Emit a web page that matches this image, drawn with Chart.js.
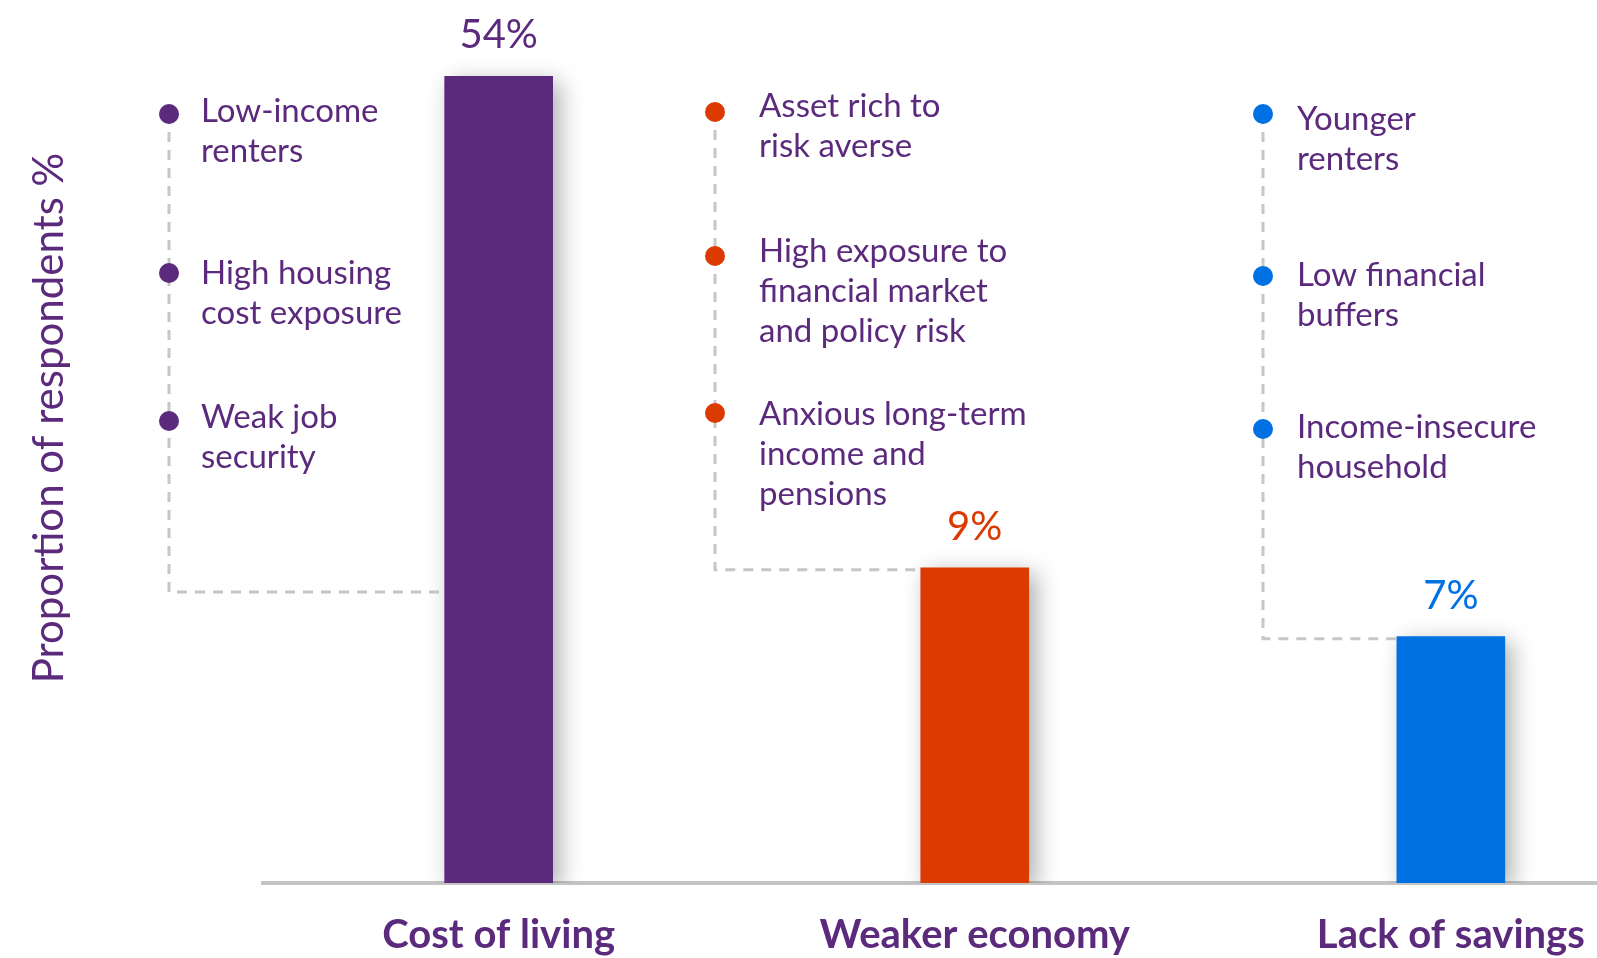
<!DOCTYPE html>
<html>
<head>
<meta charset="utf-8">
<script src="https://cdn.jsdelivr.net/npm/chart.js@4.4.1/dist/chart.umd.min.js"></script>
<style>
  html, body { margin: 0; padding: 0; background: #fff; }
  #wrap { width: 1597px; height: 958px; }
</style>
</head>
<body>
<div id="wrap"><canvas id="chart" width="1597" height="958"></canvas></div>
<script>
const categories = ['Cost of living', 'Weaker economy', 'Lack of savings'];
const shares = [54, 9, 7];
const barColors = ['#5b2a7c', '#db3a00', '#0071e3'];
const yTitle = 'Proportion of respondents %';

// bullet notes beside each bar
const notesCost = [['Low-income', 'renters'], ['High housing', 'cost exposure'], ['Weak job', 'security']];
const notesEconomy = [['Asset rich to', 'risk averse'], ['High exposure to', 'financial market', 'and policy risk'], ['Anxious long-term', 'income and', 'pensions']];
const notesSavings = [['Younger', 'renters'], ['Low financial', 'buffers'], ['Income-insecure', 'household']];
const notes = [notesCost, notesEconomy, notesSavings];

const textColor = '#5b2a7c';
const dashColor = '#c6c6c6';

// where the note columns sit on the page
const noteLayout = [
  { dotX: 169, textX: 201, dotY: [114, 273, 421], firstBase: [122, 284, 428] },
  { dotX: 715, textX: 759, dotY: [112, 256, 413], firstBase: [117, 262, 425] },
  { dotX: 1263, textX: 1297, dotY: [114, 276, 429], firstBase: [130, 286, 438] }
];

const shadowPlugin = {
  id: 'barShadow',
  beforeDatasetsDraw(chart) {
    const ctx = chart.ctx;
    ctx.save();
    ctx.shadowColor = 'rgba(0,0,0,0.32)';
    ctx.shadowBlur = 22;
    ctx.shadowOffsetX = 7;
    ctx.shadowOffsetY = 6;
  },
  afterDatasetsDraw(chart) {
    chart.ctx.restore();
  }
};

const notesPlugin = {
  id: 'notes',
  afterDraw(chart) {
    const ctx = chart.ctx;
    const bars = chart.getDatasetMeta(0).data;

    ctx.save();
    // y title
    ctx.fillStyle = textColor;
    ctx.font = '42px Lato';
    ctx.textAlign = 'center';
    ctx.textBaseline = 'alphabetic';
    ctx.translate(63, 418);
    ctx.rotate(-Math.PI / 2);
    ctx.fillText(yTitle, 0, 0);
    ctx.restore();

    bars.forEach((bar, i) => {
      const lay = noteLayout[i];
      const left = bar.x - bar.width / 2;
      const level = bar.y > 500 ? bar.y + 2 : 592;

      // dashed connector
      ctx.save();
      ctx.strokeStyle = dashColor;
      ctx.lineWidth = 3;
      ctx.setLineDash([10, 8]);
      ctx.beginPath();
      ctx.moveTo(lay.dotX, lay.dotY[0]);
      ctx.lineTo(lay.dotX, level);
      ctx.lineTo(left, level);
      ctx.stroke();
      ctx.restore();

      // bullets and text
      ctx.save();
      notes[i].forEach((lines, j) => {
        ctx.fillStyle = barColors[i];
        ctx.beginPath();
        ctx.arc(lay.dotX, lay.dotY[j], 10, 0, Math.PI * 2);
        ctx.fill();
        ctx.fillStyle = textColor;
        ctx.font = '33px Lato';
        ctx.textAlign = 'left';
        ctx.textBaseline = 'alphabetic';
        lines.forEach((t, k) => ctx.fillText(t, lay.textX, lay.firstBase[j] + k * 40));
      });

      // value label
      ctx.fillStyle = barColors[i];
      ctx.font = '40px Lato';
      ctx.textAlign = 'center';
      ctx.fillText(shares[i] + '%', bar.x, bar.y - 28);
      ctx.restore();
    });
  }
};

new Chart(document.getElementById('chart'), {
  type: 'bar',
  data: {
    datasets: [{
      data: shares.map((v, i) => ({ x: i, y: v })),
      backgroundColor: barColors,
      barThickness: 108,
      borderWidth: 0
    }]
  },
  options: {
    responsive: false,
    animation: false,
    layout: { padding: { left: 263, right: 0, top: 0, bottom: 0 } },
    plugins: { legend: { display: false }, tooltip: { enabled: false } },
    scales: {
      x: {
        type: 'linear',
        offset: false,
        bounds: 'data',
        min: -0.495,
        max: 2.307,
        grid: { display: false, drawTicks: false, offset: false },
        border: { display: true, color: '#c4c4c4', width: 4 },
        afterBuildTicks: s => { s.ticks = categories.map((_, i) => ({ value: i })); },
        afterFit: s => { s.height = 75; s.paddingLeft = 0; s.paddingRight = 0; },
        ticks: {
          padding: 28,
          maxRotation: 0,
          autoSkip: false,
          color: textColor,
          font: { family: 'Lato', size: 40, weight: 'bold' },
          callback: v => categories[v]
        }
      },
      y: {
        type: 'logarithmic',
        display: false,
        bounds: 'data',
        min: 2.852,
        max: 71.3
      }
    }
  },
  plugins: [shadowPlugin, notesPlugin]
});
</script>
</body>
</html>
